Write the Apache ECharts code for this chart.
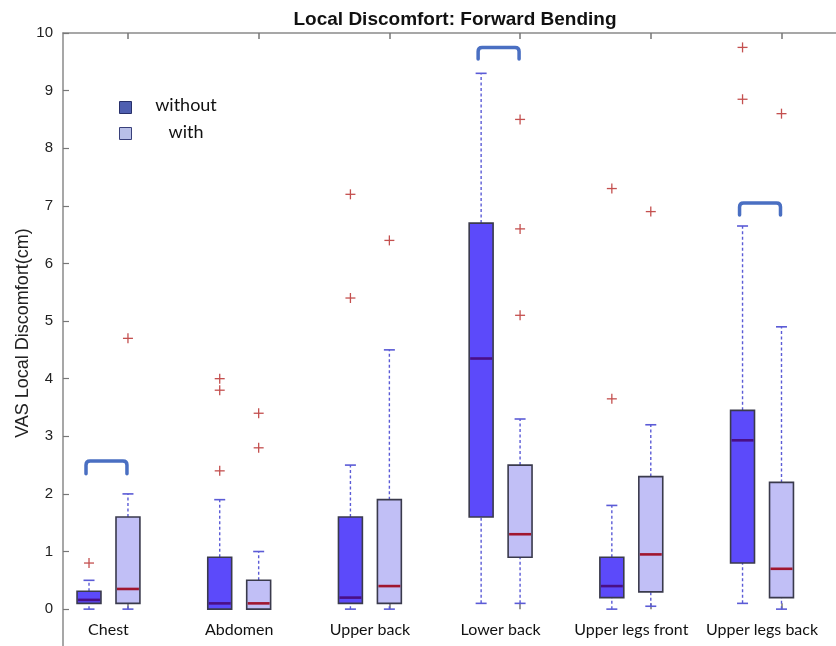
<!DOCTYPE html>
<html>
<head>
<meta charset="utf-8">
<style>html,body{margin:0;padding:0;background:#fff;}#chart{width:836px;height:646px;}</style>
<script src="https://cdn.jsdelivr.net/npm/echarts@6/dist/echarts.min.js"></script>
</head>
<body>
<div id="chart"></div>
<script>
// ---- data ----
const categories = ['Chest', 'Abdomen', 'Upper back', 'Lower back', 'Upper legs front', 'Upper legs back'];
const positions = [1, 2, 3, 4, 5, 6];
// [min, q1, median, q3, max]
const withoutStats = [
  [0, 0.1, 0.16, 0.31, 0.5],
  [0, 0, 0.1, 0.9, 1.9],
  [0, 0.1, 0.2, 1.6, 2.5],
  [0.1, 1.6, 4.35, 6.7, 9.3],
  [0, 0.2, 0.4, 0.9, 1.8],
  [0.1, 0.8, 2.93, 3.45, 6.65]
];
const withStats = [
  [0, 0.1, 0.35, 1.6, 2.0],
  [0, 0, 0.1, 0.5, 1.0],
  [0, 0.1, 0.4, 1.9, 4.5],
  [0.1, 0.9, 1.3, 2.5, 3.3],
  [0.05, 0.3, 0.95, 2.3, 3.2],
  [0, 0.2, 0.7, 2.2, 4.9]
];
const withoutOutliers = [[0.8], [4.0, 3.8, 2.4], [7.2, 5.4], [], [7.3, 3.65], [9.75, 8.85]];
const withOutliers = [[4.7], [3.4, 2.8], [6.4], [8.5, 6.6, 5.1], [6.9], [8.6]];
// [category index, top of bracket, end of legs]
const brackets = [[0, 2.57, 2.35], [3, 9.75, 9.55], [5, 7.05, 6.84]];
const yTicks = [0, 1, 2, 3, 4, 5, 6, 7, 8, 9, 10];
const seriesNames = ['without', 'with'];
const titleText = 'Local Discomfort: Forward Bending';
const yAxisTitle = 'VAS Local Discomfort(cm)';

// ---- style constants ----
const OFFSET = 0.149;
const BOXW = 0.183;
const WHISKER = '#5b5bd6';

function boxData(stats, off) {
  return stats.map((s, i) => [positions[i] + off].concat(s));
}
function outlierData(outs, off) {
  const res = [];
  outs.forEach((arr, i) => arr.forEach(v => res.push([positions[i] + off, v])));
  return res;
}

function makeBoxRender(fill, medColor) {
  return function (params, api) {
    const x = api.value(0);
    const v = [1, 2, 3, 4, 5].map(k => api.value(k));
    const p = v.map(val => api.coord([x, val]));
    const cx = p[0][0];
    const hw = api.size([BOXW, 0])[0] / 2;
    const capHalf = 5.5;
    const dash = { stroke: WHISKER, lineWidth: 1.4, lineDash: [3, 2.5] };
    const cap = { stroke: WHISKER, lineWidth: 1.6 };
    const children = [];
    if (v[4] > v[3]) children.push({ type: 'line', shape: { x1: cx, y1: p[3][1], x2: cx, y2: p[4][1] }, style: dash });
    if (v[1] > v[0]) children.push({ type: 'line', shape: { x1: cx, y1: p[0][1], x2: cx, y2: p[1][1] }, style: dash });
    children.push({ type: 'line', shape: { x1: cx - capHalf, y1: p[4][1], x2: cx + capHalf, y2: p[4][1] }, style: cap });
    children.push({ type: 'line', shape: { x1: cx - capHalf, y1: p[0][1], x2: cx + capHalf, y2: p[0][1] }, style: cap });
    children.push({ type: 'rect', shape: { x: cx - hw, y: p[3][1], width: 2 * hw, height: p[1][1] - p[3][1] },
      style: { fill: fill, stroke: '#3a3a4c', lineWidth: 1.6 } });
    children.push({ type: 'line', shape: { x1: cx - hw + 1, y1: p[2][1], x2: cx + hw - 1, y2: p[2][1] },
      style: { stroke: medColor, lineWidth: 2.6 } });
    return { type: 'group', children: children };
  };
}

function plusRender(params, api) {
  const p = api.coord([api.value(0), api.value(1)]);
  const s = 5;
  const st = { stroke: '#c4504f', lineWidth: 1.3 };
  return { type: 'group', children: [
    { type: 'line', shape: { x1: p[0] - s, y1: p[1], x2: p[0] + s, y2: p[1] }, style: st },
    { type: 'line', shape: { x1: p[0], y1: p[1] - s, x2: p[0], y2: p[1] + s }, style: st }
  ] };
}

function bracketRender(params, api) {
  const pos = api.value(0);
  const a = api.coord([pos - OFFSET, api.value(1)]);
  const b = api.coord([pos + OFFSET, api.value(2)]);
  const x1 = a[0] - 3, x2 = b[0] - 1, yt = a[1], yb = b[1];
  const r = 4;
  const d = 'M' + x1 + ',' + yb + ' L' + x1 + ',' + (yt + r) + ' Q' + x1 + ',' + yt + ' ' + (x1 + r) + ',' + yt +
    ' L' + (x2 - r) + ',' + yt + ' Q' + x2 + ',' + yt + ' ' + x2 + ',' + (yt + r) + ' L' + x2 + ',' + yb;
  return { type: 'path', shape: { pathData: d, x: x1, y: yt, width: x2 - x1, height: yb - yt, layout: 'cover' },
    style: { fill: 'none', stroke: '#4a6fc2', lineWidth: 3.5, lineCap: 'round' } };
}

const chart = echarts.init(document.getElementById('chart'));
const withTicks = positions.map(p => p + OFFSET);
const XMIN = 0.652, XMAX = 6.566;

chart.setOption({
  animation: false,
  backgroundColor: '#fff',
  grid: { left: 63, right: 0, top: 33, bottom: 0 },
  graphic: [
    { type: 'text', x: 455, y: 20, style: { text: titleText, font: 'bold 19px "Liberation Sans", Arial, sans-serif', fill: '#111', align: 'center', verticalAlign: 'middle' } },
    { type: 'text', x: 23, y: 333, rotation: Math.PI / 2, style: { text: yAxisTitle, font: '18px "Liberation Sans", Arial, sans-serif', fill: '#222', align: 'center', verticalAlign: 'middle' } },
    { type: 'rect', shape: { x: 119.5, y: 101.5, width: 12, height: 12 }, style: { fill: '#4f5fb0', stroke: '#28306a', lineWidth: 1 } },
    { type: 'rect', shape: { x: 119.5, y: 127.5, width: 12, height: 12 }, style: { fill: '#b9c0e8', stroke: '#39407a', lineWidth: 1 } },
    { type: 'text', x: 186, y: 105, style: { text: seriesNames[0], font: '18px Lato, "Open Sans", sans-serif', fill: '#111', align: 'center', verticalAlign: 'middle' } },
    { type: 'text', x: 186, y: 132, style: { text: seriesNames[1], font: '18px Lato, "Open Sans", sans-serif', fill: '#111', align: 'center', verticalAlign: 'middle' } }
  ],
  xAxis: [
    { type: 'value', min: XMIN, max: XMAX, position: 'bottom',
      axisLine: { show: false },
      axisTick: { show: true, inside: true, length: 6, customValues: withTicks, lineStyle: { color: '#777', width: 1.5 } },
      axisLabel: { show: true, inside: true, margin: 8, customValues: positions,
        formatter: v => categories[Math.round(v) - 1] || '',
        fontFamily: 'Lato, "Open Sans", sans-serif', fontSize: 16, color: '#111' },
      splitLine: { show: false } },
    { type: 'value', min: XMIN, max: XMAX, position: 'top',
      axisLine: { show: true, lineStyle: { color: '#8a8a8a', width: 1.5 } },
      axisTick: { show: true, inside: true, length: 6, customValues: withTicks, lineStyle: { color: '#777', width: 1.5 } },
      axisLabel: { show: false },
      splitLine: { show: false } }
  ],
  yAxis: [
    { type: 'value', min: -0.64, max: 10,
      axisLine: { show: true, lineStyle: { color: '#8a8a8a', width: 1.5 } },
      axisTick: { show: true, inside: true, length: 6, customValues: yTicks, lineStyle: { color: '#777', width: 1.2 } },
      axisLabel: { show: true, customValues: yTicks, margin: 10, fontFamily: '"Liberation Sans", Arial, sans-serif', fontSize: 15, color: '#222' },
      splitLine: { show: false } }
  ],
  series: [
    { name: seriesNames[0], type: 'custom', renderItem: makeBoxRender('#5c4afa', '#4a0f86'), data: boxData(withoutStats, -OFFSET), encode: { x: 0, y: [1, 2, 3, 4, 5] }, z: 3 },
    { name: seriesNames[1], type: 'custom', renderItem: makeBoxRender('#c1bff6', '#a0162f'), data: boxData(withStats, OFFSET), encode: { x: 0, y: [1, 2, 3, 4, 5] }, z: 3 },
    { name: 'out_without', type: 'custom', renderItem: plusRender, data: outlierData(withoutOutliers, -OFFSET), encode: { x: 0, y: 1 }, z: 4 },
    { name: 'out_with', type: 'custom', renderItem: plusRender, data: outlierData(withOutliers, OFFSET), encode: { x: 0, y: 1 }, z: 4 },
    { name: 'brackets', type: 'custom', renderItem: bracketRender, data: brackets.map(b => [positions[b[0]], b[1], b[2]]), encode: { x: 0, y: [1, 2] }, z: 5 }
  ]
});
</script>
</body>
</html>
